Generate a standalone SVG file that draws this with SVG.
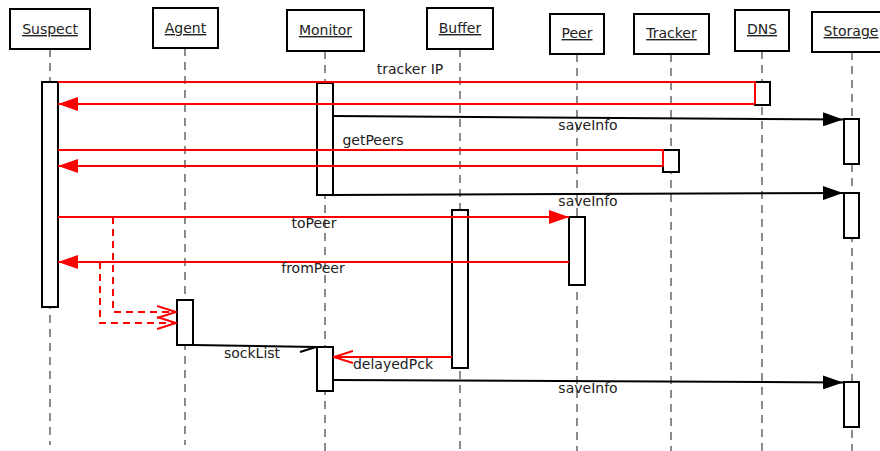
<svg xmlns="http://www.w3.org/2000/svg" width="880" height="451" viewBox="0 0 880 451">
<defs>
<style>
.box{fill:#fff;stroke:#000;stroke-width:2}
.act{fill:#fff;stroke:#000;stroke-width:2}
.life{stroke:#666;stroke-width:1.5;stroke-dasharray:8,6;fill:none}
.hd{font-family:"DejaVu Sans",sans-serif;font-size:14px;fill:#222;text-anchor:middle;text-decoration:underline}
.lb{font-family:"DejaVu Sans",sans-serif;font-size:14px;fill:#222;text-anchor:middle}
.red{stroke:#f00;stroke-width:2;fill:none}
.blk{stroke:#000;stroke-width:2;fill:none}
.rdash{stroke:#f00;stroke-width:2;fill:none;stroke-dasharray:7,5}
</style>
<marker id="fr" markerWidth="20" markerHeight="14" refX="20" refY="7" orient="auto" markerUnits="userSpaceOnUse"><path d="M0,0 L20,7 L0,14 z" fill="#f00"/></marker>
<marker id="fb" markerWidth="20" markerHeight="14" refX="20" refY="7" orient="auto" markerUnits="userSpaceOnUse"><path d="M0,0 L20,7 L0,14 z" fill="#000"/></marker>
<marker id="or" markerWidth="20" markerHeight="14" refX="19" refY="7" orient="auto" markerUnits="userSpaceOnUse"><path d="M0,1 L19,7 L0,13" fill="none" stroke="#f00" stroke-width="2"/></marker>
</defs>
<g id="lifelines">
<line class="life" x1="50" y1="49" x2="50" y2="445"/>
<line class="life" x1="185" y1="48" x2="185" y2="445"/>
<line class="life" x1="325" y1="51" x2="325" y2="451"/>
<line class="life" x1="460" y1="49" x2="460" y2="451"/>
<line class="life" x1="577" y1="54" x2="577" y2="451"/>
<line class="life" x1="671" y1="54" x2="671" y2="451"/>
<line class="life" x1="762" y1="51" x2="762" y2="451"/>
<line class="life" x1="852" y1="52" x2="852" y2="451"/>
</g>
<g id="Suspect"><rect class="box" x="10" y="9" width="80" height="40"/><text class="hd" x="50" y="34">Suspect</text><rect class="act" x="42" y="82" width="16" height="225"/></g>
<g id="Agent"><rect class="box" x="153" y="8" width="65" height="40"/><text class="hd" x="185.5" y="33">Agent</text><rect class="act" x="177" y="300" width="16" height="45"/></g>
<g id="Monitor"><rect class="box" x="287" y="10" width="77" height="41"/><text class="hd" x="325.5" y="35">Monitor</text><rect class="act" x="317" y="83" width="16" height="112"/><rect class="act" x="317" y="347" width="16" height="44"/></g>
<g id="Buffer"><rect class="box" x="427" y="8" width="66" height="41"/><text class="hd" x="460" y="33">Buffer</text><rect class="act" x="452" y="210" width="16" height="158"/></g>
<g id="Peer"><rect class="box" x="550" y="14" width="54" height="40"/><text class="hd" x="577" y="38">Peer</text><rect class="act" x="569" y="217" width="16" height="68"/></g>
<g id="Tracker"><rect class="box" x="634" y="14" width="75" height="40"/><text class="hd" x="671.5" y="38">Tracker</text><rect class="act" x="663" y="150" width="16" height="22"/></g>
<g id="DNS"><rect class="box" x="735" y="10" width="54" height="41"/><text class="hd" x="762" y="34">DNS</text><rect class="act" x="755" y="82" width="15" height="23"/></g>
<g id="Storage"><rect class="box" x="812" y="12" width="70" height="40"/><text class="hd" x="851" y="36">Storage</text><rect class="act" x="844" y="119" width="15" height="45"/><rect class="act" x="844" y="193" width="15" height="45"/><rect class="act" x="844" y="382" width="15" height="45"/></g>
<g id="connectors">
<polyline class="red" points="58,82 755,82 755,104"/>
<line class="red" x1="755" y1="104" x2="58" y2="104" marker-end="url(#fr)"/>
<text class="lb" x="410" y="74">tracker IP</text>
<line class="blk" x1="333" y1="116" x2="843" y2="119.5" marker-end="url(#fb)"/>
<text class="lb" x="588" y="130">saveInfo</text>
<polyline class="red" points="58,150 663,150 663,166"/>
<line class="red" x1="663" y1="166" x2="58" y2="166" marker-end="url(#fr)"/>
<text class="lb" x="373" y="145">getPeers</text>
<line class="blk" x1="333" y1="195" x2="843" y2="193" marker-end="url(#fb)"/>
<text class="lb" x="588" y="206">saveInfo</text>
<line class="red" x1="58" y1="217" x2="569" y2="217" marker-end="url(#fr)"/>
<text class="lb" x="314" y="228">toPeer</text>
<line class="red" x1="569" y1="262" x2="58" y2="262" marker-end="url(#fr)"/>
<text class="lb" x="313" y="273">fromPeer</text>
<polyline class="rdash" points="113,217 113,312 176,312" marker-end="url(#or)"/>
<polyline class="rdash" points="100,262 100,323 176,323" marker-end="url(#or)"/>
<line class="blk" x1="193" y1="345" x2="317" y2="347"/>
<line class="blk" x1="300" y1="352" x2="316" y2="347"/>
<text class="lb" x="252" y="358">sockList</text>
<line class="red" x1="452" y1="357" x2="334" y2="357" marker-end="url(#or)"/>
<text class="lb" x="393" y="369">delayedPck</text>
<line class="blk" x1="333" y1="380" x2="843" y2="382.5" marker-end="url(#fb)"/>
<text class="lb" x="588" y="393">saveInfo</text>
</g>
</svg>
